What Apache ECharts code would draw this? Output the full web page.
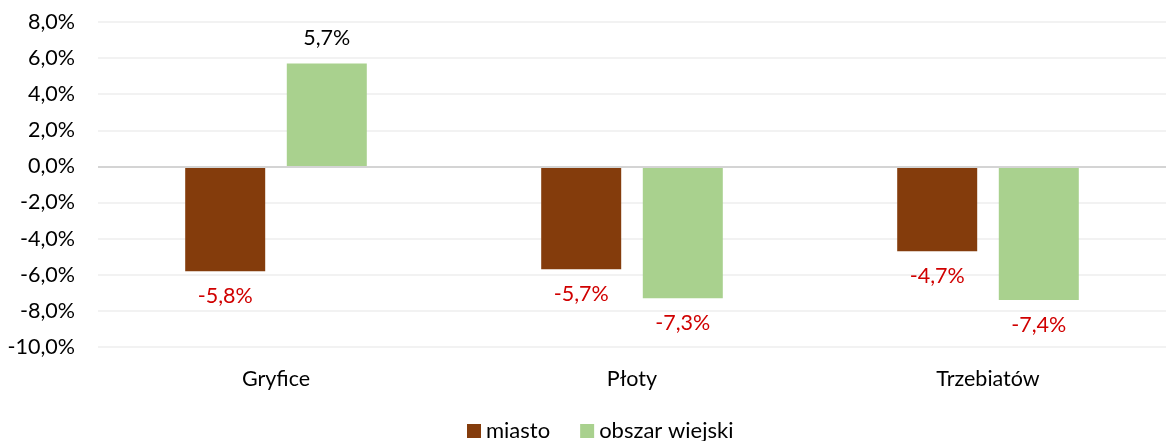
<!DOCTYPE html>
<html><head><meta charset="utf-8">
<script src="https://cdn.jsdelivr.net/npm/echarts@6/dist/echarts.min.js"></script>
<style>html,body{margin:0;padding:0;background:#fff}#c{width:1166px;height:441px}</style>
</head><body><div id="c"></div>
<script>
const categories = ['Gryfice', 'Płoty', 'Trzebiatów'];
const miasto = [-5.8, -5.7, -4.7];
const obszarWiejski = [5.7, -7.3, -7.4];
const seriesNames = ['miasto', 'obszar wiejski'];
const yMin = -10, yMax = 8, yStep = 2;

const FONT = 'Lato, "Open Sans", sans-serif';
const FS = 21.5;
const fmt = v => v.toFixed(1).replace('.', ',') + '%';
function labelCfg(val){
  return {
    show: true,
    position: val >= 0 ? 'top' : 'bottom',
    distance: 14,
    color: val >= 0 ? '#000000' : '#D00000',
    fontSize: FS,
    fontFamily: FONT,
    formatter: p => fmt(p.value)
  };
}
function mk(arr){ return arr.map(v => ({value: v, label: labelCfg(v)})); }

const chart = echarts.init(document.getElementById('c'));
chart.setOption({
  animation: false,
  grid: {left: 98, right: -5, top: 22, bottom: 94, containLabel: false},
  legend: {
    bottom: -1, left: 467, padding: 0,
    itemWidth: 14, itemHeight: 14, itemGap: 30,
    icon: 'rect',
    textStyle: {fontSize: FS + 0.5, fontFamily: FONT, color: '#000'},
    data: seriesNames
  },
  xAxis: {
    type: 'category', data: categories,
    axisLine: {show: false}, axisTick: {show: false},
    axisLabel: {fontSize: FS, fontFamily: FONT, color: '#000', margin: 21}
  },
  yAxis: {
    type: 'value', min: yMin, max: yMax, interval: yStep,
    axisLine: {show: false}, axisTick: {show: false},
    axisLabel: {fontSize: FS, fontFamily: FONT, color: '#000', margin: 23,
      formatter: v => fmt(v)},
    splitLine: {lineStyle: {color: '#EEEEEE', width: 1.5}}
  },
  series: [
    {name: seriesNames[0], type: 'bar', data: mk(miasto), barWidth: 80, barGap: '27%',
     itemStyle: {color: '#843C0C'},
     markLine: {silent: true, symbol: 'none', label: {show: false},
       lineStyle: {color: '#D4D4D4', width: 2, type: 'solid'}, data: [{yAxis: 0}]}},
    {name: seriesNames[1], type: 'bar', data: mk(obszarWiejski), barWidth: 80,
     itemStyle: {color: '#A9D18E'}}
  ]
});
</script></body></html>
